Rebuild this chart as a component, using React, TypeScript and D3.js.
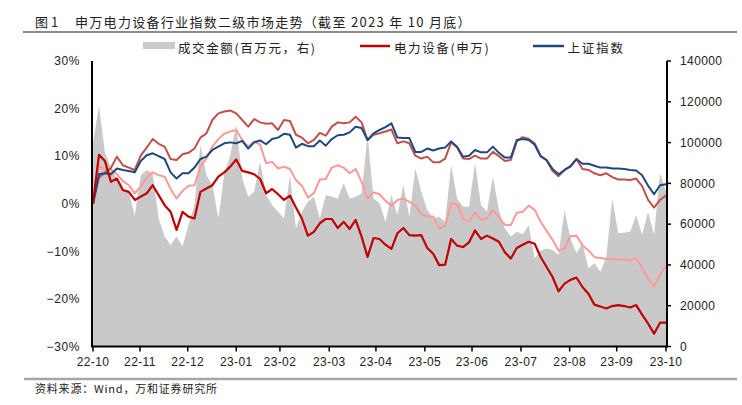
import React from 'react';
import * as d3 from 'd3';

const xTickLabels = ['22-10', '22-11', '22-12', '23-01', '23-02', '23-03', '23-04', '23-05', '23-06', '23-07', '23-08', '23-09', '23-10'];
// tick positions expressed in sample index units
const xTickAt = [0, 7.87, 15.87, 24, 31.32, 39.58, 47.4, 55.6, 63.5, 71.7, 79.86, 87.74, 96];

const leftTicks = [30, 20, 10, 0, -10, -20, -30];
const rightTicks = [140000, 120000, 100000, 80000, 60000, 40000, 20000, 0];

// 电力设备(申万) cumulative change, %
const power = [0.0, 10.3, 9.0, 4.6, 5.3, 2.9, 2.5, 0.8, 1.5, 2.2, 3.9, 1.8, -0.3, -1.7, -5.5, -1.7, -2.7, -3.1, 2.5, 3.2, 3.9, 5.7, 6.6, 7.8, 9.3,
  6.9, 6.6, 6.2, 5.2, 2.2, 3.1, 2.0, 0.8, 1.7, -0.8, -3.1, -6.7, -5.9, -4.1, -3.2, -3.2, -5.1, -3.8, -5.3, -3.4, -6.9, -11.2, -7.2, -7.4,
  -8.6, -9.5, -6.2, -5.1, -6.6, -6.7, -6.6, -9.3, -10.5, -12.9, -12.8, -7.4, -8.8, -9.1, -8.1, -5.6, -7.4, -6.7, -7.3, -8.0, -10.2, -11.5, -9.3, -8.6,
  -8.0, -8.4, -11.2, -13.3, -15.4, -18.4, -16.8, -16.0, -15.5, -17.5, -18.9, -21.2, -21.6, -22.0, -21.5, -21.3, -21.5, -21.8, -21.3, -23.3, -25.2, -27.3, -25.0, -25.0];

// 上证指数 cumulative change, %
const shIndex = [0.0, 6.2, 6.4, 6.2, 7.4, 7.1, 6.9, 6.6, 9.0, 10.2, 10.6, 10.0, 9.4, 6.6, 5.3, 6.4, 6.4, 7.6, 9.4, 9.9, 11.3, 12.0, 12.7, 12.9, 12.7,
  13.2, 11.6, 12.9, 13.3, 12.5, 13.6, 13.9, 14.7, 14.5, 11.8, 12.6, 12.1, 12.1, 13.3, 12.2, 13.6, 14.4, 14.5, 15.0, 16.2, 15.9, 13.4, 14.8, 15.5,
  16.1, 16.9, 13.9, 13.8, 13.8, 10.9, 10.9, 11.6, 11.2, 11.6, 11.8, 13.1, 12.0, 9.9, 10.1, 11.3, 10.8, 10.8, 12.0, 10.7, 9.7, 9.7, 13.4, 13.6,
  13.4, 12.4, 10.0, 9.2, 7.3, 6.2, 7.1, 7.9, 9.4, 8.4, 8.4, 8.0, 7.6, 7.6, 7.4, 7.4, 7.3, 7.1, 7.0, 6.0, 3.8, 2.0, 3.9, 4.1];

// unlabeled companion series (medium red), %
const seriesA = [0.0, 5.5, 6.5, 7.5, 9.9, 8.1, 7.6, 7.1, 10.1, 11.8, 13.6, 12.6, 12.0, 9.4, 9.2, 10.4, 10.7, 11.6, 13.9, 14.8, 17.6, 19.0, 19.4, 19.6, 19.0,
  17.6, 16.2, 17.8, 17.1, 16.8, 16.9, 15.5, 17.6, 17.4, 14.5, 13.9, 12.7, 13.4, 14.9, 14.3, 16.2, 17.1, 16.9, 17.1, 18.3, 17.1, 13.4, 14.5, 14.8,
  15.2, 15.6, 12.7, 13.1, 12.7, 10.1, 9.5, 9.9, 8.7, 8.7, 9.5, 12.9, 11.8, 9.5, 9.4, 10.1, 9.5, 9.5, 10.9, 10.0, 9.0, 9.2, 13.1, 14.0,
  13.6, 12.7, 10.0, 9.1, 6.9, 5.8, 7.1, 7.8, 9.4, 7.3, 7.1, 6.4, 6.0, 6.4, 5.6, 5.1, 5.1, 5.0, 5.3, 3.7, 0.8, -0.8, 0.8, 1.8];

// unlabeled companion series (light pink), %
const seriesB = [0.0, 8.0, 7.1, 7.3, 6.2, 4.8, 3.9, 2.2, 3.6, 5.5, 6.6, 6.0, 5.7, 3.1, 1.1, 2.7, 3.8, 3.9, 7.8, 9.5, 12.0, 13.6, 14.7, 15.2, 15.5,
  13.4, 12.0, 13.1, 12.4, 8.5, 8.8, 7.4, 7.8, 7.3, 5.0, 3.8, 1.3, 2.2, 5.1, 5.2, 7.6, 8.1, 7.6, 6.4, 7.3, 4.6, 1.1, 2.4, 2.0,
  0.6, -0.4, 0.8, 1.1, 0.4, -0.4, -2.2, -2.7, -2.7, -5.2, -4.7, 0.1, -0.1, -3.1, -3.8, -1.8, -3.4, -3.1, -1.3, -2.9, -4.4, -4.5, -1.9, -1.7,
  -0.4, -1.3, -3.8, -5.7, -7.6, -9.8, -9.4, -6.8, -6.7, -8.7, -9.8, -11.2, -11.4, -11.6, -11.6, -11.7, -11.7, -11.9, -11.4, -13.5, -15.7, -17.4, -14.9, -12.9];

// 成交金额 (百万元)
const turnover = [100000, 118000, 95000, 88000, 82000, 77500, 75900, 64100, 84000, 86500, 84900, 62800, 53900, 49800, 53900, 49000, 59600, 69400, 98700, 84000, 79200, 62800, 84900, 93800, 109000,
  82400, 73400, 75900, 90600, 74300, 69400, 66100, 62800, 84000, 57900, 66100, 71000, 73400, 62800, 74300, 73400, 72600, 80000, 72600, 73400, 75000, 103600, 72600, 70200,
  61200, 74300, 64500, 79200, 63600, 87300, 75900, 66900, 62800, 63600, 61200, 89000, 72600, 68500, 68500, 89800, 69400, 66100, 83200, 66900, 57900, 53900, 56300, 55000,
  59600, 43200, 47000, 48100, 47300, 44900, 66900, 53000, 45700, 50600, 38400, 40800, 36700, 44000, 72600, 55500, 55800, 56300, 64500, 54700, 66100, 54700, 84900, 75900];

const W = 742;
const H = 405;
const plotL = 93;
const plotR = 666;
const plotT = 61;
const plotB = 346.5;

const CJK = '"Noto Sans CJK SC", "Noto Sans", sans-serif';
const LAT = '"Liberation Sans", Arial, sans-serif';

export default function App() {
  const x = d3.scaleLinear().domain([0, power.length - 1]).range([plotL, plotR]);
  const yL = d3.scaleLinear().domain([-30, 30]).range([plotB, plotT]);
  const yR = d3.scaleLinear().domain([0, 140000]).range([plotB, plotT]);
  const pctFmt = (v: number) => d3.format('.0%')(v / 100);

  const area = d3.area<number>()
    .x((_, i) => x(i))
    .y0(yR(0))
    .y1((d) => yR(d));
  const line = d3.line<number>()
    .x((_, i) => x(i))
    .y((d) => yL(d));

  return (
    <svg width={W} height={H} style={{ position: 'absolute', left: 0, top: 0, background: '#fff' }}>
      <rect x={0} y={0} width={W} height={H} fill="#fff" />
      {/* title */}
      <text x={35} y={21} fontFamily={CJK} fontSize={13} fill="#222" dominantBaseline="central">图 1</text>
      <text x={75} y={21} fontFamily={CJK} fontSize={13} fill="#222" letterSpacing={1.3} dominantBaseline="central">
        申万电力设备行业指数二级市场走势（截至 2023 年 10 月底）
      </text>
      <line x1={23} x2={737} y1={32} y2={32} stroke="#666" strokeWidth={1.3} />

      {/* legend */}
      <rect x={143} y={42} width={32} height={7} fill="#c9c9c9" />
      <text x={178} y={47.5} fontFamily={CJK} fontSize={12.5} letterSpacing={1.6} fill="#222" dominantBaseline="central">成交金额(百万元，右)</text>
      <line x1={360} x2={390} y1={46} y2={46} stroke="#C00000" strokeWidth={2.5} />
      <text x={394} y={47.5} fontFamily={CJK} fontSize={12.5} letterSpacing={1.6} fill="#222" dominantBaseline="central">电力设备(申万)</text>
      <line x1={533} x2={564} y1={46} y2={46} stroke="#1F497D" strokeWidth={2.5} />
      <text x={567.5} y={47.5} fontFamily={CJK} fontSize={12.5} letterSpacing={1.8} fill="#222" dominantBaseline="central">上证指数</text>

      {/* turnover area */}
      <path d={area(turnover) || ''} fill="#c9c9c9" />

      {/* lines */}
      <path d={line(seriesB) || ''} fill="none" stroke="#FF9999" strokeWidth={2} strokeLinejoin="round" />
      <path d={line(seriesA) || ''} fill="none" stroke="#C0504D" strokeWidth={2} strokeLinejoin="round" />
      <path d={line(shIndex) || ''} fill="none" stroke="#1F497D" strokeWidth={2} strokeLinejoin="round" />
      <path d={line(power) || ''} fill="none" stroke="#C00000" strokeWidth={2.2} strokeLinejoin="round" />

      {/* left axis */}
      <line x1={plotL - 1} x2={plotL - 1} y1={plotT} y2={plotB} stroke="#000" strokeWidth={2} />
      {leftTicks.map((t) => (
        <text key={'l' + t} x={80} y={yL(t)} dy="0.35em" textAnchor="end" fontFamily={LAT} fontSize={12} letterSpacing={0.6} fill="#222">
          {pctFmt(t)}
        </text>
      ))}

      {/* right axis */}
      <line x1={plotR + 1} x2={plotR + 1} y1={plotT} y2={plotB} stroke="#000" strokeWidth={2} />
      {rightTicks.map((t) => (
        <g key={'r' + t}>
          <line x1={plotR + 1} x2={plotR + 5} y1={yR(t)} y2={yR(t)} stroke="#000" strokeWidth={1.5} />
          <text x={680} y={yR(t)} dy="0.35em" fontFamily={LAT} fontSize={12} letterSpacing={0.4} fill="#222">{String(t)}</text>
        </g>
      ))}

      {/* bottom axis */}
      <line x1={plotL - 2} x2={plotR + 2} y1={plotB} y2={plotB} stroke="#000" strokeWidth={2} />
      {xTickAt.map((t, i) => (
        <g key={'x' + i}>
          <line x1={x(t)} x2={x(t)} y1={plotB} y2={plotB + 5} stroke="#000" strokeWidth={1.5} />
          <text x={x(t)} y={366} textAnchor="middle" fontFamily={LAT} fontSize={12} letterSpacing={0.4} fill="#222">{xTickLabels[i]}</text>
        </g>
      ))}

      {/* footer */}
      <line x1={24} x2={737} y1={379} y2={379} stroke="#A6A6A6" strokeWidth={2.5} />
      <text x={35} y={388} fontFamily={CJK} fontSize={11} letterSpacing={0.8} fill="#222" dominantBaseline="central">资料来源：Wind，万和证券研究所</text>
    </svg>
  );
}
